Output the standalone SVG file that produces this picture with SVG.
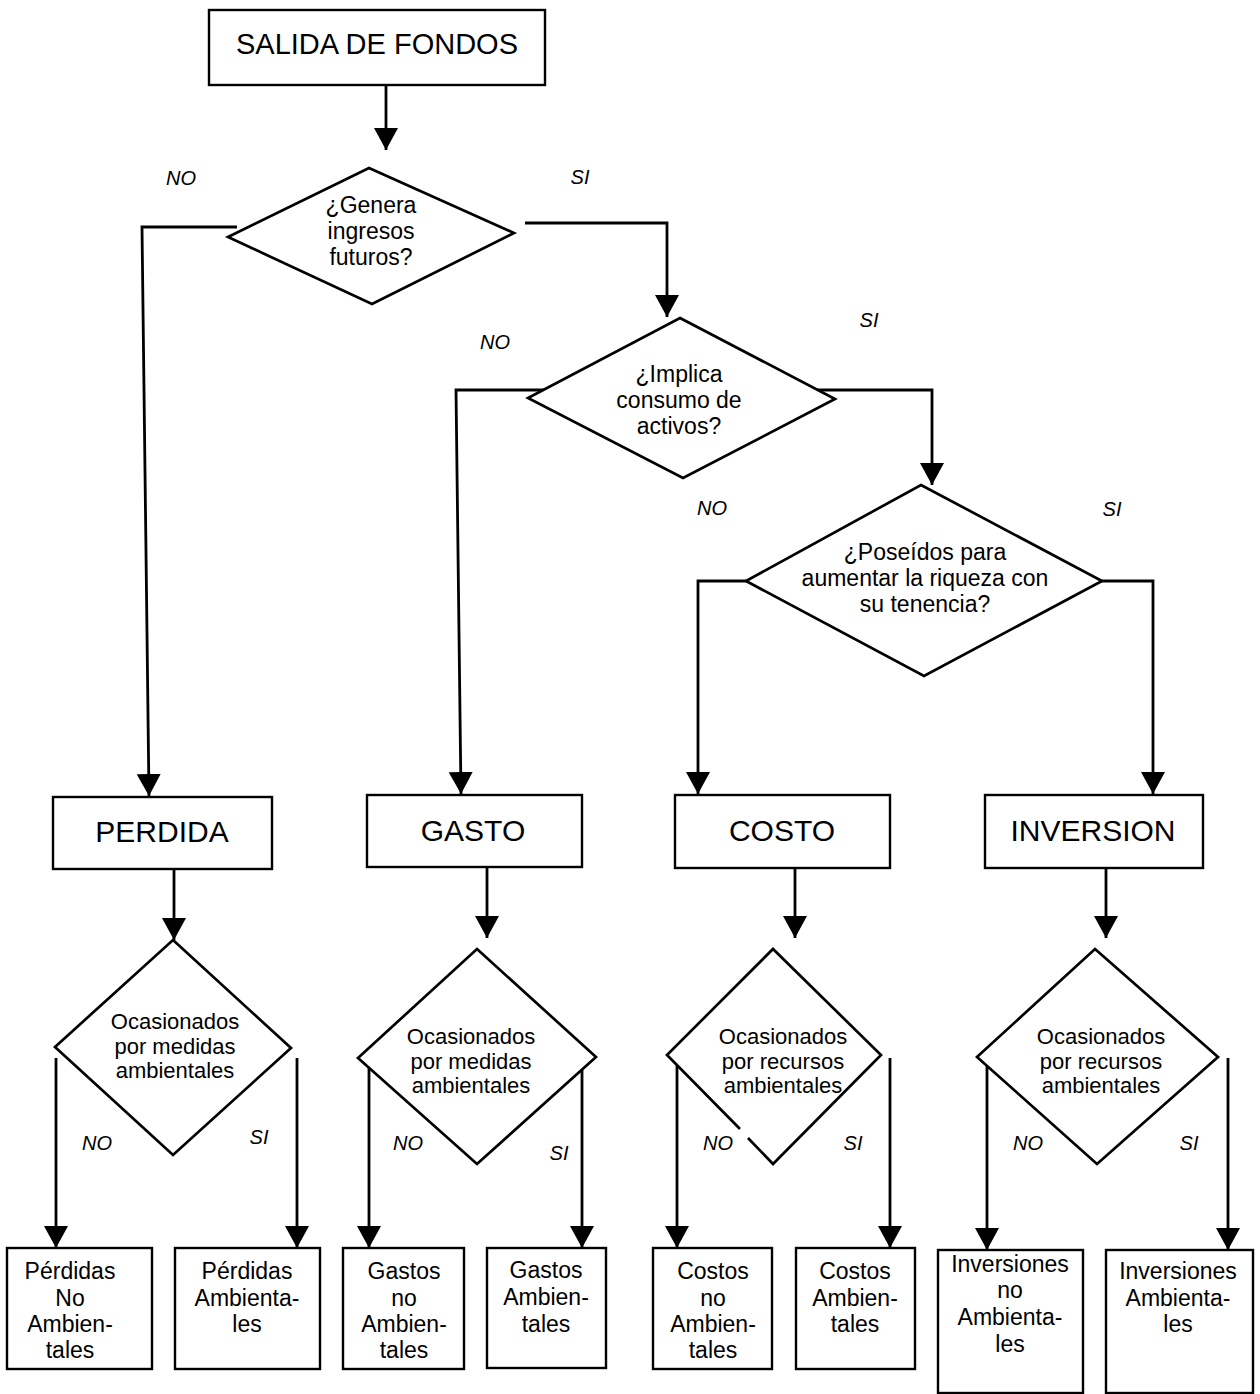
<svg xmlns="http://www.w3.org/2000/svg" width="1260" height="1394" viewBox="0 0 1260 1394">
  <defs>
    <marker id="arrow" markerUnits="userSpaceOnUse" viewBox="0 0 22 24" refX="22" refY="12" markerWidth="22" markerHeight="24" orient="auto">
      <path d="M0,0 L22,12 L0,24 z" fill="#000"/>
    </marker>
    <style>
      .box { fill: #fff; stroke: #000; stroke-width: 2.4; }
      .dia { fill: #fff; stroke: #000; stroke-width: 2.7; stroke-linejoin: miter; }
      .edge { fill: none; stroke: #000; stroke-width: 2.8; marker-end: url(#arrow); }
      .t { font-family: "Liberation Sans", Arial, sans-serif; fill: #000; text-anchor: middle; }
      .big { font-size: 29px; }
      .cat { font-size: 30px; }
      .q { font-size: 23px; }
      .oc { font-size: 22px; }
      .leaf { font-size: 23px; }
      .lbl { font-family: "Liberation Sans", Arial, sans-serif; font-size: 20px; font-style: italic; text-anchor: middle; fill: #000; }
    </style>
  </defs>
  <rect width="1260" height="1394" fill="#fff"/>

  <!-- connectors -->
  <g id="connectors">
    <path class="edge" d="M386,86 V150"/>
    <path class="edge" d="M237,227 H142 L149,796"/>
    <path class="edge" d="M525,223 H667 V317"/>
    <path class="edge" d="M550,390 H456 L461,794"/>
    <path class="edge" d="M817,390 H932 V485"/>
    <path class="edge" d="M746,581 H698 V794"/>
    <path class="edge" d="M1102,581 H1153 V794"/>
    <path class="edge" d="M174,869 V940"/>
    <path class="edge" d="M487,867 V938"/>
    <path class="edge" d="M795,868 V938"/>
    <path class="edge" d="M1106,868 V938"/>
    <path class="edge" d="M56,1058 V1248"/>
    <path class="edge" d="M297,1058 V1248"/>
    <path class="edge" d="M369,1058 V1248"/>
    <path class="edge" d="M582,1058 V1248"/>
    <path class="edge" d="M677,1057 V1248"/>
    <path class="edge" d="M890,1058 V1248"/>
    <path class="edge" d="M987,1058 V1250"/>
    <path class="edge" d="M1228,1058 V1250"/>
  </g>

  <!-- branch labels -->
  <g id="labels">
    <text class="lbl" x="181" y="185">NO</text>
    <text class="lbl" x="580" y="184">SI</text>
    <text class="lbl" x="495" y="349">NO</text>
    <text class="lbl" x="869" y="327">SI</text>
    <text class="lbl" x="712" y="515">NO</text>
    <text class="lbl" x="1112" y="516">SI</text>
    <text class="lbl" x="97" y="1150">NO</text>
    <text class="lbl" x="259" y="1144">SI</text>
    <text class="lbl" x="408" y="1150">NO</text>
    <text class="lbl" x="559" y="1160">SI</text>
    <text class="lbl" x="718" y="1150">NO</text>
    <text class="lbl" x="853" y="1150">SI</text>
    <text class="lbl" x="1028" y="1150">NO</text>
    <text class="lbl" x="1189" y="1150">SI</text>
  </g>

  <g id="salida">
    <rect class="box" x="209" y="10" width="336" height="75"/>
    <text class="t big" x="377" y="54">SALIDA DE FONDOS</text>
  </g>

  <g id="q-ingresos">
    <polygon class="dia" points="369,168 514,233 372,304 228,237"/>
    <text class="t q" x="371" y="213">¿Genera</text>
    <text class="t q" x="371" y="239">ingresos</text>
    <text class="t q" x="371" y="265">futuros?</text>
  </g>

  <g id="q-consumo">
    <polygon class="dia" points="680,318 835,399 683,478 528,398"/>
    <text class="t q" x="679" y="382">¿Implica</text>
    <text class="t q" x="679" y="408">consumo de</text>
    <text class="t q" x="679" y="434">activos?</text>
  </g>

  <g id="q-poseidos">
    <polygon class="dia" points="921,485 1102,581 924,676 746,581"/>
    <text class="t q" x="925" y="560">¿Poseídos para</text>
    <text class="t q" x="925" y="586">aumentar la riqueza con</text>
    <text class="t q" x="925" y="612">su tenencia?</text>
  </g>

  <g id="perdida">
    <rect class="box" x="53" y="797" width="219" height="72"/>
    <text class="t cat" x="162" y="842">PERDIDA</text>
  </g>
  <g id="gasto">
    <rect class="box" x="367" y="795" width="215" height="72"/>
    <text class="t cat" x="473" y="841">GASTO</text>
  </g>
  <g id="costo">
    <rect class="box" x="675" y="795" width="215" height="73"/>
    <text class="t cat" x="782" y="841">COSTO</text>
  </g>
  <g id="inversion">
    <rect class="box" x="985" y="795" width="218" height="73"/>
    <text class="t cat" x="1093" y="841">INVERSION</text>
  </g>

  <g id="q-perdida">
    <polygon class="dia" points="173,940 291,1048 173,1155 55,1047"/>
    <text class="t oc" x="175" y="1029">Ocasionados</text>
    <text class="t oc" x="175" y="1054">por medidas</text>
    <text class="t oc" x="175" y="1078">ambientales</text>
  </g>
  <g id="q-gasto">
    <polygon class="dia" points="477,949 596,1057 477,1164 358,1058"/>
    <text class="t oc" x="471" y="1044">Ocasionados</text>
    <text class="t oc" x="471" y="1069">por medidas</text>
    <text class="t oc" x="471" y="1093">ambientales</text>
  </g>
  <g id="q-costo">
    <polygon points="773,949 881,1055 773,1164 667,1055" fill="#fff" stroke="none"/>
    <polyline class="dia" fill="none" points="740,1129 667,1055 773,949 881,1055 773,1164 748,1138"/>
    <text class="t oc" x="783" y="1044">Ocasionados</text>
    <text class="t oc" x="783" y="1069">por recursos</text>
    <text class="t oc" x="783" y="1093">ambientales</text>
  </g>
  <g id="q-inversion">
    <polygon class="dia" points="1095,949 1218,1057 1097,1164 977,1057"/>
    <text class="t oc" x="1101" y="1044">Ocasionados</text>
    <text class="t oc" x="1101" y="1069">por recursos</text>
    <text class="t oc" x="1101" y="1093">ambientales</text>
  </g>

  <g id="perdidas-no-amb">
    <rect class="box" x="7" y="1248" width="145" height="121"/>
    <text class="t leaf" x="70" y="1279">Pérdidas</text>
    <text class="t leaf" x="70" y="1306">No</text>
    <text class="t leaf" x="70" y="1332">Ambien-</text>
    <text class="t leaf" x="70" y="1358">tales</text>
  </g>
  <g id="perdidas-amb">
    <rect class="box" x="175" y="1248" width="145" height="121"/>
    <text class="t leaf" x="247" y="1279">Pérdidas</text>
    <text class="t leaf" x="247" y="1306">Ambienta-</text>
    <text class="t leaf" x="247" y="1332">les</text>
  </g>
  <g id="gastos-no-amb">
    <rect class="box" x="343" y="1248" width="121" height="121"/>
    <text class="t leaf" x="404" y="1279">Gastos</text>
    <text class="t leaf" x="404" y="1306">no</text>
    <text class="t leaf" x="404" y="1332">Ambien-</text>
    <text class="t leaf" x="404" y="1358">tales</text>
  </g>
  <g id="gastos-amb">
    <rect class="box" x="487" y="1248" width="119" height="120"/>
    <text class="t leaf" x="546" y="1278">Gastos</text>
    <text class="t leaf" x="546" y="1305">Ambien-</text>
    <text class="t leaf" x="546" y="1332">tales</text>
  </g>
  <g id="costos-no-amb">
    <rect class="box" x="653" y="1248" width="119" height="121"/>
    <text class="t leaf" x="713" y="1279">Costos</text>
    <text class="t leaf" x="713" y="1306">no</text>
    <text class="t leaf" x="713" y="1332">Ambien-</text>
    <text class="t leaf" x="713" y="1358">tales</text>
  </g>
  <g id="costos-amb">
    <rect class="box" x="796" y="1248" width="119" height="121"/>
    <text class="t leaf" x="855" y="1279">Costos</text>
    <text class="t leaf" x="855" y="1306">Ambien-</text>
    <text class="t leaf" x="855" y="1332">tales</text>
  </g>
  <g id="inversiones-no-amb">
    <rect class="box" x="938" y="1250" width="145" height="143"/>
    <text class="t leaf" x="1010" y="1272">Inversiones</text>
    <text class="t leaf" x="1010" y="1298">no</text>
    <text class="t leaf" x="1010" y="1325">Ambienta-</text>
    <text class="t leaf" x="1010" y="1352">les</text>
  </g>
  <g id="inversiones-amb">
    <rect class="box" x="1106" y="1250" width="147" height="143"/>
    <text class="t leaf" x="1178" y="1279">Inversiones</text>
    <text class="t leaf" x="1178" y="1306">Ambienta-</text>
    <text class="t leaf" x="1178" y="1332">les</text>
  </g>
</svg>
